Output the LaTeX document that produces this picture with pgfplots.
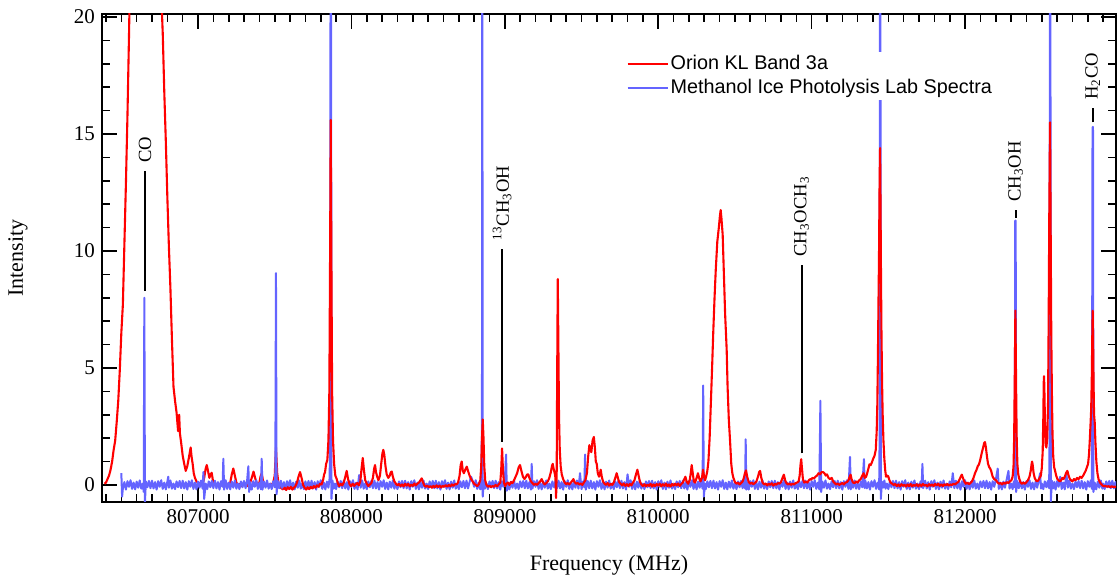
\documentclass[border=0pt]{standalone}
\usepackage{fontspec}
\setmainfont{Liberation Serif}
\newfontfamily\legfont{Liberation Sans}
\usepackage{pgfplots}
\usepackage{pgfplotstable}
\pgfplotsset{compat=1.18}
\definecolor{labblue}{RGB}{100,100,255}
\newcommand\annfont{\fontsize{9.3}{11}\selectfont}

\pgfplotstableread[row sep=\\]{
x y\\
806390 .05\\806400 .1\\806410 .25\\806420 .4\\806430 .65\\806440 1.0\\806450 1.5\\806460 1.9\\806470 2.7\\806480 3.6\\806490 4.9\\806500 6.5\\806510 7.7\\806520 10.3\\806530 12.9\\806540 15.8\\806550 19.2\\806560 23\\806580 30\\806600 36\\806620 40\\806640 42\\806660 42\\806680 41\\806700 38\\806720 33\\806740 26\\806760 21\\806770 19.3\\806780 16.8\\806790 14.7\\806800 12.3\\806810 10.2\\806820 8.4\\806830 6.2\\806840 4.2\\806850 3.6\\806860 3.1\\806870 2.3\\806877 3.0\\806882 2.2\\806890 1.8\\806900 1.25\\806910 .9\\806920 .6\\806930 .8\\806940 1.15\\806952 1.6\\806958 1.2\\806965 .9\\806972 .5\\806980 .3\\806990 .15\\
807000 .1\\807010 .05\\807020 .12\\807030 .02\\807040 .3\\807050 .7\\807057 .85\\807065 .6\\807074 .3\\807082 .45\\807089 .52\\807098 .15\\807110 .05\\807120 -.03\\807130 .06\\807140 -.02\\807150 .04\\807160 -.05\\807170 .03\\807180 .08\\807190 -.03\\807200 .05\\807210 .1\\807220 .45\\807230 .7\\807240 .4\\807250 .1\\807261 .0\\807270 .04\\807280 -.06\\807290 .03\\807300 -.02\\807310 .06\\807320 -.05\\807330 .05\\807340 .1\\807350 .3\\807362 .57\\807372 .3\\807382 .08\\807390 .02\\807400 .1\\807407 .35\\807415 .5\\807423 .2\\807432 .03\\807440 -.05\\807450 .04\\807460 -.03\\807470 .05\\807480 .0\\807490 .1\\807500 .4\\807508 1.6\\807516 .5\\807525 .05\\807535 -.1\\807545 -.15\\807555 -.2\\
}\redA

\pgfplotstableread[row sep=\\]{
x y\\
807555 -.2\\807565 -.12\\807575 -.22\\807585 -.1\\807595 -.18\\807605 -.08\\807615 -.2\\807625 -.12\\807635 -.05\\807645 .1\\807655 .35\\807665 .55\\807675 .3\\807685 .0\\807695 -.12\\807705 -.2\\807715 -.1\\807725 -.18\\807735 -.08\\807745 -.15\\807755 -.05\\807765 -.12\\807775 -.02\\807785 -.08\\807795 .05\\807805 .02\\807815 .2\\807822 .45\\807828 .55\\807835 .9\\807843 1.07\\807850 1.9\\807856 4\\807861 10\\807865 15.6\\807869 10\\807874 4\\807880 1.9\\807887 .9\\807895 .4\\807904 .25\\807912 .05\\807920 -.05\\807930 .05\\807940 -.02\\807950 .1\\807960 .35\\807969 .6\\807978 .25\\807988 .02\\807998 -.06\\
808008 .05\\808018 -.04\\808028 .03\\808038 .08\\808048 -.02\\808058 .15\\808066 .7\\808074 1.15\\808082 .6\\808090 .2\\808100 .05\\808110 -.05\\808120 .02\\808130 .08\\808140 .3\\808148 .7\\808154 .85\\808160 .55\\808168 .35\\808176 .2\\808186 .4\\808194 .9\\808202 1.35\\808208 1.5\\808214 1.3\\808222 .8\\808230 .45\\808240 .3\\808250 .4\\808257 .55\\808263 .57\\808270 .35\\808280 .15\\808290 .05\\808300 -.02\\808310 .04\\808320 -.05\\808330 .02\\808340 -.06\\808350 .05\\808360 -.03\\808370 .04\\808380 -.06\\808390 .01\\808400 -.04\\808410 .06\\808420 -.02\\808430 .05\\808440 .1\\808450 .2\\808458 .28\\808466 .12\\808475 -.02\\808485 -.08\\808495 -.03\\808505 -.1\\808515 -.05\\808525 -.12\\808535 -.04\\808545 -.1\\808555 -.02\\808565 -.09\\808575 -.03\\808585 -.11\\808595 -.04\\808605 -.08\\808615 -.01\\808625 -.07\\808635 .0\\808645 -.06\\808655 .02\\808665 -.04\\808675 .03\\808685 .02\\808695 .1\\808705 .4\\808712 .85\\808719 1.0\\808726 .6\\808733 .5\\808742 .65\\808752 .78\\808760 .6\\808770 .4\\808780 .25\\808790 .15\\808800 .05\\808810 .0\\808820 -.05\\808830 .02\\808840 .2\\808846 .8\\808851 2.0\\808856 2.8\\808861 2.0\\808866 .8\\808872 .2\\808880 .0\\808890 -.08\\808900 -.03\\808910 -.1\\808920 -.05\\808930 -.08\\808940 .0\\808950 -.06\\808960 .02\\808970 .1\\808976 .6\\808982 1.56\\808988 .6\\808994 .1\\
809002 -.05\\809010 .05\\809020 .1\\809030 .0\\809040 .12\\809050 .08\\809060 .2\\809070 .35\\809080 .5\\809090 .75\\809099 .85\\809108 .6\\809118 .35\\809128 .25\\809138 .35\\809146 .45\\809153 .45\\809160 .3\\809170 .15\\809180 .08\\809190 .0\\809200 .05\\809210 .0\\809220 .08\\809230 .15\\809240 .25\\809250 .1\\809260 .02\\809270 .08\\809280 .15\\809290 .3\\809300 .55\\809307 .8\\809312 .9\\809318 .7\\809325 .5\\809330 .3\\809334 -.56\\809338 .5\\809341 4.5\\809345 8.8\\809349 6\\809353 3\\809358 1.5\\809364 .8\\809371 .45\\809380 .25\\809390 .1\\809400 .03\\809410 .08\\809420 .02\\809430 .1\\809440 .18\\809447 .25\\809455 .12\\809465 .05\\809475 .08\\809485 .02\\809495 .06\\809505 .0\\809515 .1\\809525 .2\\809535 .5\\809543 1.2\\809551 1.7\\809557 1.5\\809564 1.4\\809572 1.9\\809580 2.05\\809587 1.6\\809593 1.0\\809599 .9\\809606 .5\\809614 .35\\809620 .5\\809625 .65\\809632 .35\\809640 .15\\809650 .05\\809660 .0\\809670 .08\\809680 -.03\\809690 .05\\809700 .0\\809710 .1\\809720 .3\\809729 .5\\809737 .3\\809745 .12\\809755 .05\\809765 -.02\\809775 .06\\809785 -.04\\809795 .03\\809805 -.05\\809815 .04\\809825 -.02\\809835 .1\\809845 .2\\809855 .45\\809864 .65\\809872 .4\\809880 .15\\809890 .02\\809900 -.05\\809910 .03\\809920 -.06\\809930 .01\\809940 -.04\\809950 .05\\809960 -.07\\809970 .02\\809980 -.05\\809990 .04\\
810000 -.03\\810010 .05\\810020 -.06\\810030 .03\\810040 -.04\\810050 .06\\810060 -.05\\810070 .02\\810080 -.07\\810090 .04\\810100 -.03\\810110 .05\\810120 -.02\\810130 .06\\810140 -.04\\810150 .04\\810160 .1\\810170 .25\\810177 .35\\810185 .15\\810195 .05\\810205 .2\\810212 .5\\810218 .85\\810225 .5\\810232 .15\\810240 .1\\810250 .3\\810259 .5\\810266 .3\\810275 .15\\810285 .3\\810292 .65\\810298 .4\\810305 .2\\810312 .35\\810320 .6\\810327 1.0\\810335 2.0\\810343 3.5\\810351 5.0\\810359 6.6\\810367 8.0\\810375 9.2\\810385 10.4\\810395 11.0\\810402 11.5\\810407 11.75\\810412 11.4\\810420 10.7\\810428 9.0\\810436 7.3\\810446 5.8\\810452 4.2\\810460 2.8\\810468 1.9\\810476 .9\\810483 .5\\810490 .3\\810500 .12\\810510 .05\\810520 .1\\810530 .02\\810540 .08\\810550 .15\\810558 .3\\810565 .5\\810572 .62\\810580 .35\\810590 .12\\810600 .05\\810610 .1\\810620 .03\\810630 .08\\810640 .15\\810650 .35\\810658 .55\\810664 .6\\810672 .3\\810680 .1\\810690 .02\\810700 .06\\810710 -.02\\810720 .05\\810730 .0\\810740 .07\\810750 -.03\\810760 .04\\810770 .01\\810780 .08\\810790 .05\\810800 .12\\810810 .3\\810819 .44\\810827 .2\\810835 .08\\810845 .02\\810855 .06\\810865 .0\\810875 .05\\810885 .02\\810895 .08\\810905 .1\\810915 .15\\810922 .4\\810928 .9\\810932 1.1\\810937 .7\\810943 .25\\810952 .1\\810962 .15\\810972 .1\\810982 .2\\810990 .25\\810997 .22\\
811005 .3\\811015 .28\\811025 .35\\811035 .4\\811045 .5\\811055 .45\\811065 .55\\811074 .55\\811083 .5\\811092 .4\\811100 .45\\811110 .3\\811120 .25\\811131 .3\\811140 .15\\811150 .08\\811160 .02\\811170 .06\\811180 .0\\811190 .04\\811200 .08\\811210 .02\\811220 .1\\811230 .12\\811240 .2\\811248 .35\\811254 .44\\811260 .25\\811270 .1\\811280 .08\\811290 .15\\811300 .1\\811310 .2\\811320 .25\\811330 .4\\811339 .5\\811346 .3\\811355 .35\\811362 .5\\811370 .7\\811377 .88\\811385 .85\\811392 .95\\811400 1.1\\811410 1.25\\811418 1.5\\811424 2.3\\811428 3.4\\811432 5.5\\811436 8\\811439 9.7\\811443 13\\811446 14.4\\811449 12\\811452 9\\811455 6.6\\811459 4.4\\811463 3.0\\811468 1.9\\811474 1.1\\811480 .6\\811485 .35\\811492 .4\\811499 .37\\811507 .2\\811515 .1\\811525 .05\\811535 .0\\811545 .04\\811555 -.05\\811565 .02\\811575 -.06\\811585 .03\\811595 -.04\\811605 .01\\811615 -.07\\811625 .02\\811635 -.05\\811645 .04\\811655 -.06\\811665 .0\\811675 -.04\\811685 .03\\811695 -.06\\811705 .02\\811715 -.05\\811725 .04\\811735 -.03\\811745 .0\\811755 -.06\\811765 .03\\811775 -.04\\811785 .02\\811795 -.05\\811805 .04\\811815 -.02\\811825 .05\\811835 -.04\\811845 .02\\811855 -.05\\811865 .03\\811875 -.02\\811885 .04\\811895 -.03\\811905 .02\\811915 .0\\811925 .05\\811935 .02\\811945 .08\\811955 .12\\811965 .25\\811972 .35\\811979 .44\\811986 .3\\811995 .15\\
812005 .05\\812015 .1\\812025 .03\\812035 .08\\812045 .15\\812055 .3\\812065 .5\\812075 .65\\812083 .8\\812091 .88\\812100 1.1\\812110 1.4\\812118 1.6\\812125 1.8\\812130 1.83\\812136 1.6\\812143 1.2\\812150 .9\\812158 .75\\812164 .7\\812170 .6\\812180 .35\\812190 .25\\812202 .2\\812212 .1\\812222 .05\\812232 .08\\812242 .02\\812252 .1\\812262 .05\\812272 .12\\812282 .08\\812292 .15\\812302 .2\\812310 .35\\812316 .8\\812320 2.0\\812324 4.5\\812328 7.45\\812332 4.8\\812336 2.2\\812341 .9\\812347 .45\\812354 .25\\812362 .1\\812370 .05\\812380 .1\\812390 .05\\812400 .12\\812410 .2\\812420 .35\\812428 .6\\812434 .9\\812437 1.0\\812441 .85\\812447 .5\\812454 .3\\812462 .2\\812470 .15\\812478 .2\\812486 .3\\812494 .4\\812500 .7\\812506 1.4\\812510 2.8\\812513 4.4\\812515 4.65\\812518 3.8\\812521 2.6\\812525 1.7\\812530 1.6\\812536 2.0\\812541 3.5\\812545 7\\812549 11.5\\812554 15.5\\812558 11\\812562 6.5\\812566 4\\812570 2.2\\812575 1.2\\812581 .75\\812587 .6\\812594 .4\\812602 .25\\812610 .2\\812618 .15\\812626 .2\\812634 .3\\812642 .25\\812650 .35\\812658 .5\\812667 .6\\812675 .4\\812683 .25\\812691 .2\\812700 .15\\812710 .25\\812720 .2\\812730 .3\\812740 .25\\812750 .35\\812760 .3\\812770 .4\\812778 .5\\812786 .6\\812794 .75\\812802 .9\\812808 1.3\\812813 1.9\\812818 2.6\\812822 3.2\\812826 4.5\\812829 6.2\\812832 7.45\\812835 6.0\\812838 4.2\\812841 3.0\\812845 2.7\\812850 1.8\\812856 1.0\\812863 .5\\812870 .25\\812878 .12\\812886 .05\\812895 -.02\\812905 -.06\\812915 -.04\\812925 -.08\\812935 -.05\\812945 -.1\\812955 -.06\\812965 -.09\\812975 -.07\\812984 -.1\\
}\redB

\pgfplotstableread[row sep=\\]{
x y\\
806500 .5\\806505 -.5\\806510 -.15\\806520 .12\\806530 -.2\\806540 .16\\806550 -.08\\806560 .2\\806570 -.17\\806580 .1\\806590 -.19\\
806600 .14\\806610 -.12\\806620 .19\\806630 -.16\\806640 .06\\806646 -.3\\806650 8.0\\806654 -.75\\806660 .15\\806670 -.1\\806680 .17\\806690 -.14\\
806700 .18\\806710 -.15\\806720 .12\\806730 -.2\\806740 .16\\806750 -.08\\806760 .2\\806770 -.17\\806780 .1\\806790 -.19\\
806800 .14\\806806 .35\\806810 -.12\\806820 .19\\806830 -.16\\806840 .06\\806850 -.18\\806860 .15\\806870 -.1\\806880 .17\\806890 -.14\\
806900 .18\\806910 -.15\\806920 .12\\806930 -.2\\806940 .16\\806950 -.08\\806960 .2\\806970 -.17\\806980 .1\\806990 -.19\\
807000 .14\\807010 -.12\\807020 .19\\807030 -.16\\807035 .55\\807040 -.6\\807050 .06\\807060 -.18\\807070 .15\\807080 -.1\\807090 .17\\
807100 -.14\\807110 .18\\807120 -.15\\807130 .12\\807140 -.2\\807150 .16\\807160 -.08\\807165 1.12\\807170 -.2\\807180 .2\\807190 -.17\\
807200 .1\\807210 -.19\\807220 .14\\807230 -.12\\807240 .19\\807250 -.16\\807260 .06\\807270 -.18\\807280 .15\\807290 -.1\\
807300 .17\\807310 -.14\\807320 .18\\807328 .8\\807333 -.3\\807340 .12\\807350 -.2\\807360 .16\\807370 -.08\\807380 .2\\807390 -.17\\
807400 .1\\807410 -.19\\807415 1.12\\807420 -.2\\807430 .14\\807440 -.12\\807450 .19\\807460 -.16\\807470 .06\\807480 -.18\\807490 .15\\
807500 -.1\\807504 .6\\807508 9.05\\807512 -.4\\807520 .17\\807530 -.14\\807540 .18\\807550 -.15\\807560 .12\\807570 -.2\\807580 .16\\807590 -.08\\
807600 .2\\807610 -.17\\807620 .1\\807630 -.19\\807640 .14\\807650 -.12\\807660 .19\\807670 -.16\\807680 .06\\807690 -.18\\
807700 .15\\807710 -.1\\807720 .17\\807730 -.14\\807740 .18\\807750 -.15\\807760 .12\\807770 -.2\\807780 .16\\807790 -.08\\
807800 .2\\807810 -.17\\807820 .1\\807830 -.19\\807840 .14\\807850 -.12\\807858 .3\\807862 3\\807864 25\\807867 25\\807870 -.6\\807876 .19\\807884 -.16\\807892 .06\\
807900 -.18\\807910 .15\\807920 -.1\\807930 .17\\807940 -.14\\807950 .18\\807960 -.15\\807970 .12\\807980 -.2\\807990 .16\\
808000 -.08\\808010 .2\\808020 -.17\\808030 .1\\808040 -.19\\808050 .42\\808060 -.12\\808070 .19\\808080 -.16\\808090 .06\\
808100 -.18\\808110 .15\\808120 -.1\\808130 .17\\808140 -.14\\808150 .18\\808160 -.15\\808170 .12\\808180 -.2\\808190 .16\\
808200 -.08\\808210 .2\\808220 -.17\\808230 .1\\808240 -.19\\808250 .14\\808260 -.12\\808270 .19\\808280 -.16\\808290 .06\\
808300 -.18\\808310 .15\\808320 -.1\\808330 .17\\808340 -.14\\808350 .18\\808360 -.15\\808370 .12\\808380 -.2\\808390 .16\\
808400 -.08\\808410 .2\\808420 -.17\\808430 .1\\808440 -.19\\808450 .14\\808460 -.12\\808470 .19\\808480 -.16\\808490 .06\\
808500 -.18\\808510 .15\\808520 -.1\\808530 .17\\808540 -.14\\808550 .18\\808560 -.15\\808570 .12\\808580 -.2\\808590 .16\\
808600 -.08\\808610 .2\\808620 -.17\\808630 .1\\808640 -.19\\808650 .14\\808660 -.12\\808670 .19\\808680 -.16\\808690 .06\\
808700 -.18\\808710 .15\\808720 -.1\\808730 .17\\808740 -.14\\808750 .18\\808760 -.15\\808770 .12\\808780 .35\\808790 .16\\
808800 -.08\\808810 .2\\808820 -.17\\808830 .1\\808840 -.19\\808848 .2\\808851 3.6\\808853 25\\808856 -.5\\808862 .19\\808870 -.16\\808880 .06\\808890 -.18\\
808900 .15\\808910 -.1\\808920 .17\\808930 -.14\\808940 .18\\808950 -.15\\808960 .12\\808970 -.2\\808980 .16\\808990 -.08\\
809000 .2\\809008 1.3\\809013 -.25\\809020 .1\\809030 -.19\\809040 .14\\809050 -.12\\809060 .19\\809070 -.16\\809080 .06\\809090 -.18\\
809100 .15\\809110 -.1\\809120 .17\\809130 -.14\\809140 .18\\809150 -.15\\809160 .12\\809170 -.2\\809175 .9\\809180 -.15\\809190 .16\\
809200 -.08\\809210 .2\\809220 -.17\\809230 .1\\809240 -.19\\809250 .14\\809260 -.12\\809270 .19\\809280 -.16\\809290 .06\\
809300 -.18\\809310 .15\\809320 -.1\\809330 .17\\809340 -.14\\809350 .18\\809360 -.15\\809370 .12\\809380 -.2\\809390 .16\\
809400 -.08\\809410 .2\\809420 -.17\\809430 .1\\809440 -.19\\809450 .14\\809460 -.12\\809470 .19\\809480 -.16\\809490 .5\\
809500 -.18\\809510 .15\\809518 -.1\\809523 1.3\\809528 -.2\\809540 .17\\809550 -.14\\809560 .18\\809570 -.15\\809580 .12\\809590 -.2\\
809600 .16\\809610 -.08\\809620 .2\\809630 -.17\\809640 .1\\809650 -.19\\809660 .14\\809670 -.12\\809680 .19\\809690 -.16\\
809700 .06\\809710 -.18\\809720 .15\\809730 -.1\\809740 .17\\809750 -.14\\809760 .18\\809770 -.15\\809780 .12\\809790 -.2\\
809800 .45\\809810 -.08\\809820 .2\\809830 -.17\\809840 .1\\809850 -.19\\809860 .14\\809870 -.12\\809880 .19\\809890 -.16\\
809900 .06\\809910 -.18\\809920 .15\\809930 -.1\\809940 .17\\809950 -.14\\809960 .18\\809970 -.15\\809980 .12\\809990 -.2\\
810000 .16\\810010 -.08\\810020 .2\\810030 -.17\\810040 .1\\810050 -.19\\810060 .14\\810070 -.12\\810080 .19\\810090 -.16\\
810100 .06\\810110 -.18\\810120 .15\\810130 -.1\\810140 .17\\810150 -.14\\810160 .18\\810170 -.15\\810180 .12\\810190 -.2\\
810200 .16\\810210 -.08\\810220 .2\\810230 -.17\\810240 .1\\810250 -.19\\810260 .14\\810270 -.12\\810280 .19\\810289 -.16\\810293 4.25\\810297 -.5\\
810305 .06\\810310 -.18\\810320 .15\\810330 -.1\\810340 .17\\810350 -.14\\810360 .18\\810370 -.15\\810380 .12\\810390 -.2\\
810400 .16\\810410 -.08\\810420 .2\\810430 -.17\\810440 .1\\810450 -.19\\810460 .14\\810470 -.12\\810480 .19\\810490 -.16\\
810500 .06\\810510 -.18\\810520 .15\\810530 -.1\\810540 .17\\810550 -.14\\810560 .18\\810566 -.15\\810570 1.95\\810574 -.2\\810580 .12\\810590 -.2\\
810600 .16\\810610 -.08\\810620 .2\\810630 -.17\\810640 .1\\810650 -.19\\810660 .14\\810670 -.12\\810680 .19\\810690 -.16\\
810700 .06\\810710 -.18\\810720 .15\\810730 -.1\\810740 .17\\810750 -.14\\810760 .18\\810770 -.15\\810780 .12\\810790 -.2\\
810800 .16\\810810 -.08\\810820 .2\\810830 -.17\\810840 .1\\810850 -.19\\810860 .14\\810870 -.12\\810880 .19\\810890 -.16\\
810900 .06\\810910 -.18\\810920 .15\\810930 -.1\\810940 .17\\810950 -.14\\810960 .18\\810970 -.15\\810980 .12\\810990 -.2\\
811000 .16\\811010 -.08\\811020 .2\\811030 -.17\\811040 .1\\811050 -.19\\811057 3.6\\811062 -.3\\811070 .14\\811080 -.12\\811090 .19\\
811100 -.16\\811110 .06\\811120 -.18\\811130 .15\\811140 -.1\\811150 .17\\811160 -.14\\811170 .18\\811180 -.15\\811190 .12\\
811200 -.2\\811210 .16\\811220 -.08\\811230 .2\\811240 -.17\\811250 1.2\\811255 -.19\\811260 .14\\811270 -.12\\811280 .19\\811290 -.16\\
811300 .06\\811310 -.18\\811320 .15\\811330 -.1\\811341 1.1\\811346 -.14\\811350 .18\\811360 -.15\\811370 .12\\811380 -.2\\811390 .16\\
811400 -.08\\811410 .2\\811420 -.17\\811430 .1\\811440 -.19\\811443 2\\811445 25\\811448 25\\811451 -.6\\811458 .14\\811466 -.12\\811474 .19\\811482 -.16\\811490 .06\\
811500 -.18\\811510 .15\\811520 -.1\\811530 .17\\811540 -.14\\811550 .18\\811560 -.15\\811570 .12\\811580 -.2\\811590 .16\\
811600 -.08\\811610 .2\\811620 -.17\\811630 .1\\811640 -.19\\811650 .14\\811660 -.12\\811670 .19\\811680 -.16\\811690 .06\\
811700 -.18\\811710 .15\\811717 -.1\\811722 .9\\811727 -.14\\811740 .18\\811750 -.15\\811760 .12\\811770 -.2\\811780 .16\\811790 -.08\\
811800 .2\\811810 -.17\\811820 .1\\811830 -.19\\811840 .14\\811850 -.12\\811860 .19\\811870 -.16\\811880 .06\\811890 -.18\\
811900 .15\\811910 -.1\\811920 .5\\811930 -.14\\811940 .18\\811950 -.15\\811960 .12\\811970 -.2\\811980 .16\\811990 -.08\\
812000 .2\\812010 -.17\\812020 .1\\812030 -.19\\812040 .14\\812050 -.12\\812060 .19\\812070 -.16\\812080 .06\\812090 -.18\\
812100 .15\\812110 -.1\\812120 .17\\812130 -.14\\812140 .18\\812150 -.15\\812160 .12\\812170 -.2\\812180 .16\\812190 -.08\\
812200 .2\\812213 .7\\812220 -.17\\812230 .1\\812240 -.19\\812250 .14\\812260 -.12\\812270 .19\\812283 .6\\812290 -.16\\
812300 .06\\812310 -.18\\812318 .15\\812324 -.1\\812327 11.3\\812330 11.3\\812333 -.3\\812340 .17\\812350 -.14\\812360 .18\\812370 -.15\\812380 .12\\812390 -.2\\
812400 .16\\812410 -.08\\812420 .2\\812430 -.17\\812440 .1\\812450 -.19\\812460 .14\\812470 -.12\\812480 .19\\812489 .5\\812495 -.16\\
812500 .06\\812510 -.18\\812520 .15\\812530 -.1\\812540 .17\\812548 -.14\\812551 2\\812553 25\\812556 25\\812559 -.7\\812566 .18\\812574 -.15\\812582 .12\\812590 -.2\\
812600 .16\\812610 -.08\\812620 .35\\812630 -.17\\812640 .1\\812650 -.19\\812660 .5\\812670 -.12\\812680 .19\\812690 -.16\\
812700 .06\\812710 -.18\\812720 .15\\812730 -.1\\812740 .17\\812750 -.14\\812760 .18\\812770 -.15\\812780 .12\\812790 -.2\\
812800 .16\\812810 -.08\\812820 .2\\812827 -.17\\812831 15.3\\812834 15.3\\812837 -.3\\812845 .1\\812855 -.19\\812865 .14\\812875 -.12\\812885 .19\\812895 -.16\\
812900 .06\\812910 -.18\\812920 .15\\812930 -.1\\812940 .17\\812950 -.14\\812960 .18\\812970 -.15\\812980 .12\\812990 -.2\\
}\blueT

\begin{document}
\begin{tikzpicture}
\begin{axis}[
  scale only axis, width=507pt, height=244pt,
  xmin=806374, xmax=812984, ymin=-0.73, ymax=20.13,
  xtick={807000,808000,809000,810000,811000,812000},
  minor xtick={806400,806500,806600,806700,806800,806900,807100,807200,807300,807400,807500,807600,807700,807800,807900,808100,808200,808300,808400,808500,808600,808700,808800,808900,809100,809200,809300,809400,809500,809600,809700,809800,809900,810100,810200,810300,810400,810500,810600,810700,810800,810900,811100,811200,811300,811400,811500,811600,811700,811800,811900,812100,812200,812300,812400,812500,812600,812700,812800,812900},
  ytick={0,5,10,15,20},
  minor ytick={1,2,3,4,6,7,8,9,11,12,13,14,16,17,18,19},
  scaled x ticks=false,
  xticklabel style={/pgf/number format/.cd, fixed, precision=0, 1000 sep={}},
  /pgf/number format/assume math mode=true,
  tick label style={font=\fontsize{10.5}{12}\selectfont},
  label style={font=\fontsize{11}{13}\selectfont},
  xlabel={Frequency (MHz)}, ylabel={Intensity},
  xlabel style={at={(axis description cs:0.5,-0.129)}, anchor=center},
  ylabel style={at={(axis description cs:-0.083,0.5)}, anchor=center},
  tick align=inside, major tick length=7.5pt, minor tick length=4pt,
  every tick/.style={black, line width=0.8pt},
  axis line style={line width=1pt},
  legend style={at={(axis description cs:0.517,0.922)}, anchor=north west, draw=none, fill=white, inner sep=0pt,
    font=\legfont\fontsize{9.9}{11}\selectfont,
    nodes={inner sep=1pt, text height=7.5pt, text depth=2.5pt}, row sep=0pt},
  legend cell align=left,
  legend image code/.code={\draw[#1,line width=1pt] (0pt,0pt) -- (20pt,0pt);},
]
\addplot[red, line width=1.05pt, no marks, line join=round] table {\redA};
\addlegendentry{Orion KL Band 3a}
\addplot[labblue, line width=1pt, no marks, line join=round] table {\blueT};
\addlegendentry{Methanol Ice Photolysis Lab Spectra}
\addplot[red, line width=1.05pt, no marks, line join=round, forget plot] table {\redB};

\draw[line width=1pt] (axis cs:806654,8.3) -- (axis cs:806654,13.4);
\node[rotate=90,anchor=west,inner sep=0pt,font=\annfont] at (axis cs:806654,13.75) {CO};
\draw[line width=1pt] (axis cs:808982,1.85) -- (axis cs:808982,10.1);
\node[rotate=90,anchor=west,inner sep=0pt,font=\annfont] at (axis cs:808982,10.45) {\textsuperscript{13}CH\textsubscript{3}OH};
\draw[line width=1pt] (axis cs:810934,1.35) -- (axis cs:810934,9.4);
\node[rotate=90,anchor=west,inner sep=0pt,font=\annfont] at (axis cs:810934,9.75) {CH\textsubscript{3}OCH\textsubscript{3}};
\draw[line width=1pt] (axis cs:812330,11.4) -- (axis cs:812330,11.75);
\node[rotate=90,anchor=west,inner sep=0pt,font=\annfont] at (axis cs:812330,12.1) {CH\textsubscript{3}OH};
\draw[line width=1pt] (axis cs:812832,15.5) -- (axis cs:812832,16.1);
\node[rotate=90,anchor=west,inner sep=0pt,font=\annfont] at (axis cs:812832,16.45) {H\textsubscript{2}CO};
\end{axis}
\pgfresetboundingbox
\path[use as bounding box] (-51pt,-37pt) rectangle (507.5pt,251pt);
\end{tikzpicture}
\end{document}
